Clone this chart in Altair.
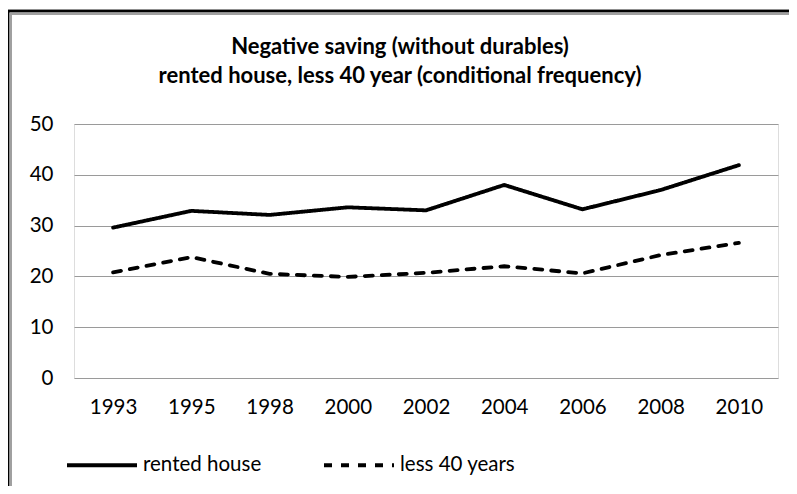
import altair as alt
import pandas as pd

years = ["1993", "1995", "1998", "2000", "2002", "2004", "2006", "2008", "2010"]
rented_house = [29.6, 32.9, 32.1, 33.6, 33.0, 38.0, 33.2, 37.0, 41.9]
less_40_years = [20.8, 23.8, 20.5, 19.9, 20.7, 22.0, 20.6, 24.2, 26.6]
series_names = ["rented house", "less 40 years"]
title_lines = ["Negative saving (without durables)",
               "rented house, less 40 year (conditional frequency)"]
y_ticks = [0, 10, 20, 30, 40, 50]

rows = []
for name, vals in zip(series_names, [rented_house, less_40_years]):
    for y, v in zip(years, vals):
        rows.append({"year": y, "value": v, "series": name})
df = pd.DataFrame(rows)
title_df = pd.DataFrame({"line": title_lines})

FONT = "Lato"

lines = alt.Chart(df).mark_line(strokeWidth=3.8, color="black", strokeCap="round").encode(
    x=alt.X("year:N", sort=years, title=None,
            scale=alt.Scale(paddingInner=0, paddingOuter=0.5),
            axis=alt.Axis(labelAngle=0, ticks=False, domain=False, grid=False,
                          labelPadding=19, labelFontSize=20.5, labelFont=FONT,
                          labelColor="black")),
    y=alt.Y("value:Q", title=None,
            scale=alt.Scale(domain=[0, 50], nice=False),
            axis=alt.Axis(values=y_ticks, ticks=False, domain=False, grid=True,
                          gridColor="#9a9a9a", gridWidth=1.2,
                          labelPadding=21, labelFontSize=20.5, labelFont=FONT,
                          labelColor="black")),
    strokeDash=alt.StrokeDash("series:N", sort=series_names,
                              scale=alt.Scale(domain=series_names,
                                              range=[[1, 0], [8, 9]]),
                              legend=alt.Legend(title=None, orient="none",
                                                direction="horizontal",
                                                legendX=-9, legendY=304,
                                                symbolType="stroke",
                                                symbolSize=4900,
                                                symbolStrokeWidth=4,
                                                symbolStrokeColor="black",
                                                labelFont=FONT, labelFontSize=20.5,
                                                labelColor="black",
                                                labelOffset=4,
                                                columnPadding=54)),
    detail="series:N",
)

title1 = alt.Chart(title_df).transform_filter(
    alt.datum.line == title_lines[0]).mark_text(
    font=FONT, fontSize=22, fontWeight="bold", color="black", baseline="middle",
    align="center").encode(text="line:N", x=alt.value(326), y=alt.value(-77))
title2 = alt.Chart(title_df).transform_filter(
    alt.datum.line == title_lines[1]).mark_text(
    font=FONT, fontSize=22, fontWeight="bold", color="black", baseline="middle",
    align="center").encode(text="line:N", x=alt.value(326), y=alt.value(-48))

# frame (top and left edges, black with grey inner line)
frame_top_black = alt.Chart(title_df).mark_rule(color="black", strokeWidth=2.5).encode(
    x=alt.value(-74), x2=alt.value(800), y=alt.value(-113))
frame_top_grey = alt.Chart(title_df).mark_rule(color="#a0a0a0", strokeWidth=2).encode(
    x=alt.value(-63), x2=alt.value(800), y=alt.value(-110))
frame_left_black = alt.Chart(title_df).mark_rule(color="black", strokeWidth=2.5).encode(
    x=alt.value(-66), y=alt.value(-114), y2=alt.value(400))
frame_left_grey = alt.Chart(title_df).mark_rule(color="#a0a0a0", strokeWidth=2).encode(
    x=alt.value(-63), y=alt.value(-111), y2=alt.value(400))

chart = alt.layer(frame_top_black, frame_top_grey, frame_left_black,
                  frame_left_grey, title1, title2, lines).properties(
    width=704, height=254,
    autosize=alt.AutoSizeParams(type="none"),
    padding={"left": 66, "top": 116, "right": 11, "bottom": 108},
).configure_view(stroke=None).configure(background="white")

chart.save("out.html", embed_options={"renderer": "svg", "actions": False})
